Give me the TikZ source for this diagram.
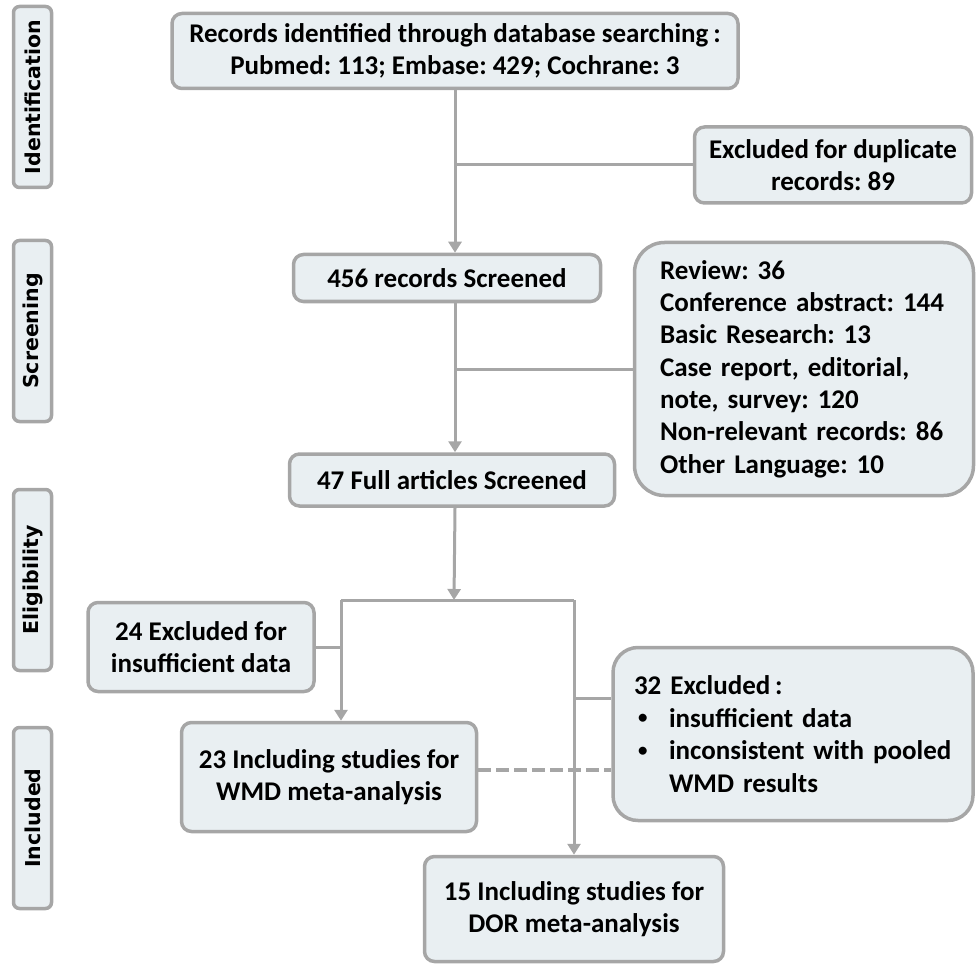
\documentclass[tikz,border=0pt]{standalone}
\usepackage{fontspec}
\setmainfont{Carlito}
\newfontfamily\sidefont{DejaVu Sans}
\usetikzlibrary{arrows.meta}
\definecolor{boxfill}{HTML}{E9EFF2}
\definecolor{edge}{HTML}{A6A6A6}
\newcommand{\fwcolon}{\hspace{0.18em}:}
\newcommand{\smbullet}{\raisebox{0.12em}{\scalebox{0.7}{•}}}
\begin{document}
\frenchspacing
\begin{tikzpicture}[x=1pt,y=-1pt,
 box/.style={draw=edge, line width=3.5pt, fill=boxfill, rounded corners=10pt, font=\bfseries\fontsize{27}{32.5}\selectfont, align=center, inner sep=0pt},
 side/.style={draw=edge, line width=3.5pt, fill=boxfill, rounded corners=6pt, minimum width=181pt, minimum height=38pt, rotate=90, font=\sidefont\bfseries\fontsize{20.5}{24}\selectfont, inner sep=0pt},
 conn/.style={draw=edge, line width=3pt},
 arr/.style={conn, -{Triangle[length=11pt,width=13pt]}}]
\useasboundingbox (0,0) rectangle (976,973);

\node[side] (sid) at (32.5,97) {Identification};
\node[side] (ssc) at (32.5,331) {Screening};
\node[side] (sel) at (32.5,580) {Eligibility};
\node[side] (sin) at (32.5,818) {Included};

\node[box, minimum width=566pt, minimum height=75pt] (rec) at (455,51) {Records identified through database searching\fwcolon\\Pubmed: 113; Embase: 429; Cochrane: 3};
\node[box, minimum width=277pt, minimum height=76pt] (dup) at (833,165) {Excluded for duplicate\\records: 89};
\node[box, minimum width=307pt, minimum height=47pt] (s456) at (447,278) {456 records Screened};
\node[box, rounded corners=30pt, minimum width=339pt, minimum height=253pt, align=left, text width=314pt, font=\bfseries\fontsize{27}{32.3}\selectfont] (lst) at (804,369) {\hspace*{13pt}Review: 36\\
\hspace*{13pt}Conference abstract: 144\\
\hspace*{13pt}Basic Research: 13\\
\hspace*{13pt}Case report, editorial,\\
\hspace*{13pt}note, survey: 120\\
\hspace*{13pt}Non-relevant records: 86\\
\hspace*{13pt}Other Language: 10};
\node[box, minimum width=325pt, minimum height=52pt] (f47) at (452,480) {47 Full articles Screened};
\node[box, minimum width=226pt, minimum height=89pt] (e24) at (201,647) {24 Excluded for\\insufficient data};
\node[box, minimum width=295pt, minimum height=109pt] (in23) at (329,777) {23 Including studies for\\WMD meta-analysis};
\node[box, rounded corners=25pt, minimum width=360pt, minimum height=173pt, align=left, text width=342pt, font=\bfseries\fontsize{27}{32.7}\selectfont] (e32) at (793,734) {\hspace*{12pt}32 Excluded\fwcolon\\
\hspace*{12pt}\makebox[35pt][l]{\hspace*{4pt}\smbullet}insufficient data\\
\hspace*{12pt}\makebox[35pt][l]{\hspace*{4pt}\smbullet}inconsistent with pooled\\
\hspace*{47pt}WMD results};
\node[box, minimum width=299pt, minimum height=105pt] (in15) at (574,909) {15 Including studies for\\DOR meta-analysis};

\coordinate (split) at (454,600);
\coordinate (L) at (341,600);
\coordinate (R) at (574,600);

\draw[arr] (rec.south) -- (rec.south |- s456.north);
\draw[conn] (rec.south |- dup.west) -- (dup.west);
\draw[arr] (rec.south |- s456.south) -- (rec.south |- f47.north);
\draw[conn] (rec.south |- lst.west) -- (lst.west);
\draw[arr] (rec.south |- f47.south) -- (split);
\draw[conn] (L) -- (R);
\draw[arr] (L) -- (L |- in23.north);
\draw[arr] (R) -- (R |- in15.north);
\draw[conn] (e24.east) -- (e24.east -| L);
\draw[conn] ([yshift=36pt]e32.west) -- ([yshift=36pt]e32.west -| R);
\draw[draw=edge, line width=4pt, dash pattern=on 13pt off 5pt] ([yshift=7pt]in23.east) -- ([yshift=7pt]in23.east -| e32.west);
\end{tikzpicture}
\end{document}
